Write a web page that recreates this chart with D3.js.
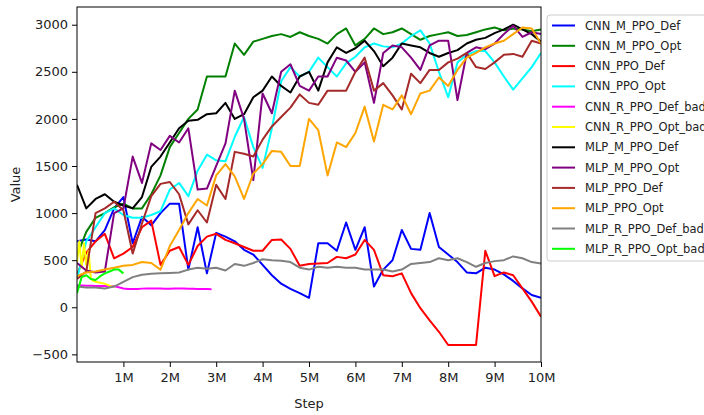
<!DOCTYPE html>
<html>
<head>
<meta charset="utf-8">
<script src="https://cdn.jsdelivr.net/npm/d3@7"></script>
<style>
  html, body { margin: 0; padding: 0; background: #fff; }
  #chart { width: 704px; height: 415px; }
  text { font-family: "DejaVu Sans", sans-serif; }
</style>
</head>
<body>
<div id="chart"></div>
<script>
// step grids (in millions of steps)
const stepsFull = d3.range(51).map(i => i * 0.2);   // 0 .. 10M
const stepsShort = d3.range(31).map(i => i * 0.1);  // 0 .. 3M
const stepsTiny = d3.range(17).map(i => i * 0.05);  // 0 .. 0.8M

const cnnMPpoDef = [700,720,700,820,1050,1170,680,960,870,1000,1100,1100,400,850,360,790,750,700,610,560,450,340,250,195,150,100,680,680,600,900,610,850,220,400,500,820,620,610,1000,640,560,480,370,360,420,400,350,280,200,130,100];
const cnnMPpoOpt = [550,800,950,1000,1060,1100,1050,1050,1200,1400,1700,1850,2000,2100,2450,2450,2450,2800,2680,2820,2850,2880,2900,2870,2920,2880,2850,2800,2900,2960,2780,2850,2960,2900,2920,2960,2900,2840,2880,2900,2920,2880,2890,2920,2950,2970,2940,2960,2950,2930,2950];
const cnnPpoDef = [350,580,700,780,520,570,640,850,920,450,600,640,450,650,750,780,715,680,640,600,600,715,720,620,440,460,465,470,535,520,560,715,610,340,330,360,150,-10,-140,-260,-400,-400,-400,-400,600,330,370,340,200,60,-100];
const cnnPpoOpt = [300,700,850,1000,1050,980,950,950,980,1020,1250,1320,1180,1450,1620,1560,1550,1810,2020,1700,1480,1900,2400,2550,2450,2500,2650,2550,2450,2590,2660,2760,2800,2770,2760,2800,2880,2940,2800,2500,2230,2600,2680,2720,2720,2600,2450,2310,2430,2550,2700];
const cnnRPpoDefBad = [230,230,228,228,226,226,225,224,222,212,200,195,195,195,198,200,200,200,200,198,198,200,200,200,198,196,195,195,193,192];
const cnnRPpoOptBad = [480,700,420,680,450,600,300,280,270,265,260,255,250,240,230,220,215];
const mlpMPpoDef = [1300,1050,1150,1200,1120,1080,1050,1170,1490,1600,1750,1900,1980,1990,2050,2060,2170,2000,2050,2230,2300,2450,2350,2280,2450,2500,2300,2600,2760,2700,2750,2830,2720,2560,2650,2800,2780,2760,2700,2660,2700,2730,2800,2840,2860,2910,2950,3000,2950,2900,2820];
const mlpMPpoOpt = [470,390,370,380,1000,1050,1600,1320,1740,1670,1820,1750,1900,1250,1260,1500,1740,2300,2000,1350,2270,2060,2500,2580,2350,2300,2450,2450,2650,2620,2500,2600,2170,2700,2780,2760,2650,2520,2780,2830,2830,2200,2700,2760,2740,2800,2900,2990,2870,2920,2900];
const mlpPpoDef = [300,380,1000,1050,1120,1030,570,890,1180,1310,1330,1200,880,1030,900,1300,1150,1650,1630,1600,1780,1920,2020,2120,2260,2170,2150,2300,2300,2300,2500,2650,2300,2380,2250,2100,2480,2380,2520,2520,2600,2640,2700,2550,2530,2600,2680,2690,2660,2830,2800];
const mlpPpoOpt = [330,370,380,400,420,440,450,480,470,400,650,820,1000,1150,1080,1400,1520,1390,1150,1420,1520,1660,1650,1500,1500,2000,1880,1400,1750,1700,1850,2130,1760,2150,2100,2250,2050,2270,2300,2440,2350,2520,2650,2700,2760,2800,2830,2900,2970,2960,2800];
const mlpRPpoDefBad = [220,210,210,200,220,270,320,345,355,360,365,370,400,420,410,420,390,460,440,470,510,500,495,480,420,400,430,420,430,420,420,400,400,400,380,400,460,470,480,520,500,520,480,430,470,490,500,540,520,480,465];
const mlpRPpoOptBad = [150,320,340,300,290,330,360,380,400,400,360];

const seriesNames = ["CNN_M_PPO_Def","CNN_M_PPO_Opt","CNN_PPO_Def","CNN_PPO_Opt","CNN_R_PPO_Def_bad","CNN_R_PPO_Opt_bad","MLP_M_PPO_Def","MLP_M_PPO_Opt","MLP_PPO_Def","MLP_PPO_Opt","MLP_R_PPO_Def_bad","MLP_R_PPO_Opt_bad"];
const seriesValues = [cnnMPpoDef,cnnMPpoOpt,cnnPpoDef,cnnPpoOpt,cnnRPpoDefBad,cnnRPpoOptBad,mlpMPpoDef,mlpMPpoOpt,mlpPpoDef,mlpPpoOpt,mlpRPpoDefBad,mlpRPpoOptBad];
const seriesSteps = [stepsFull,stepsFull,stepsFull,stepsFull,stepsShort,stepsTiny,stepsFull,stepsFull,stepsFull,stepsFull,stepsFull,stepsShort];
const colors = ["#0000ff","#008000","#ff0000","#00ffff","#ff00ff","#ffff00","#000000","#800080","#a52a2a","#ffa500","#808080","#00ff00"];

const xTicks = [1,2,3,4,5,6,7,8,9,10];
const yTicks = [-500,0,500,1000,1500,2000,2500,3000];

const W = 704, H = 415;
const margin = { top: 7, right: 163, bottom: 53, left: 77 };
const innerW = W - margin.left - margin.right;
const innerH = H - margin.top - margin.bottom;

const svg = d3.select("#chart").append("svg")
  .attr("width", W).attr("height", H);

const g = svg.append("g")
  .attr("transform", `translate(${margin.left},${margin.top})`);

const x = d3.scaleLinear().domain([0, 10]).range([0, innerW]);
const y = d3.scaleLinear().domain([-581, 3188]).range([innerH, 0]);

svg.append("defs").append("clipPath").attr("id", "plotclip")
  .append("rect").attr("width", innerW).attr("height", innerH);

const line = d3.line().x(d => x(d[0])).y(d => y(d[1]));

const lines = g.append("g").attr("clip-path", "url(#plotclip)");
seriesValues.forEach((vals, i) => {
  const pts = vals.map((v, j) => [seriesSteps[i][j], v]);
  lines.append("path")
    .datum(pts)
    .attr("fill", "none")
    .attr("stroke", colors[i])
    .attr("stroke-width", 2)
    .attr("stroke-linejoin", "round")
    .attr("d", line);
});

const xAxis = g.append("g")
  .attr("transform", `translate(0,${innerH})`)
  .call(d3.axisBottom(x).tickValues(xTicks).tickFormat(d => d + "M").tickSizeOuter(0).tickSize(5).tickPadding(6));

const yAxis = g.append("g")
  .call(d3.axisLeft(y).tickValues(yTicks).tickFormat(d => d < 0 ? "\u2212" + Math.abs(d) : d).tickSizeOuter(0).tickSize(5).tickPadding(4));

[xAxis, yAxis].forEach(a => {
  a.select(".domain").remove();
  a.selectAll("text").style("font-size", "13px").attr("fill", "#222");
  a.selectAll("line").attr("stroke", "#000");
});

g.append("rect")
  .attr("width", innerW).attr("height", innerH)
  .attr("fill", "none").attr("stroke", "#000").attr("stroke-width", 1);

g.append("text")
  .attr("x", innerW / 2).attr("y", innerH + 46)
  .attr("text-anchor", "middle")
  .style("font-size", "13px").attr("fill", "#222")
  .text("Step");

g.append("text")
  .attr("transform", "rotate(-90)")
  .attr("x", -innerH / 2).attr("y", -57)
  .attr("text-anchor", "middle")
  .style("font-size", "13px").attr("fill", "#222")
  .text("Value");

// legend
const legend = svg.append("g").attr("transform", "translate(547,15)");
legend.append("rect")
  .attr("width", 175).attr("height", 246).attr("rx", 3)
  .attr("fill", "#fff").attr("fill-opacity", 0.8)
  .attr("stroke", "#cccccc");

seriesNames.forEach((name, i) => {
  const yy = 10.5 + i * 20.3;
  legend.append("line")
    .attr("x1", 5).attr("x2", 28).attr("y1", yy).attr("y2", yy)
    .attr("stroke", colors[i]).attr("stroke-width", 2);
  legend.append("text")
    .attr("x", 38).attr("y", yy)
    .attr("dy", "0.35em")
    .style("font-size", "11.5px").attr("fill", "#222")
    .text(name);
});
</script>
</body>
</html>
